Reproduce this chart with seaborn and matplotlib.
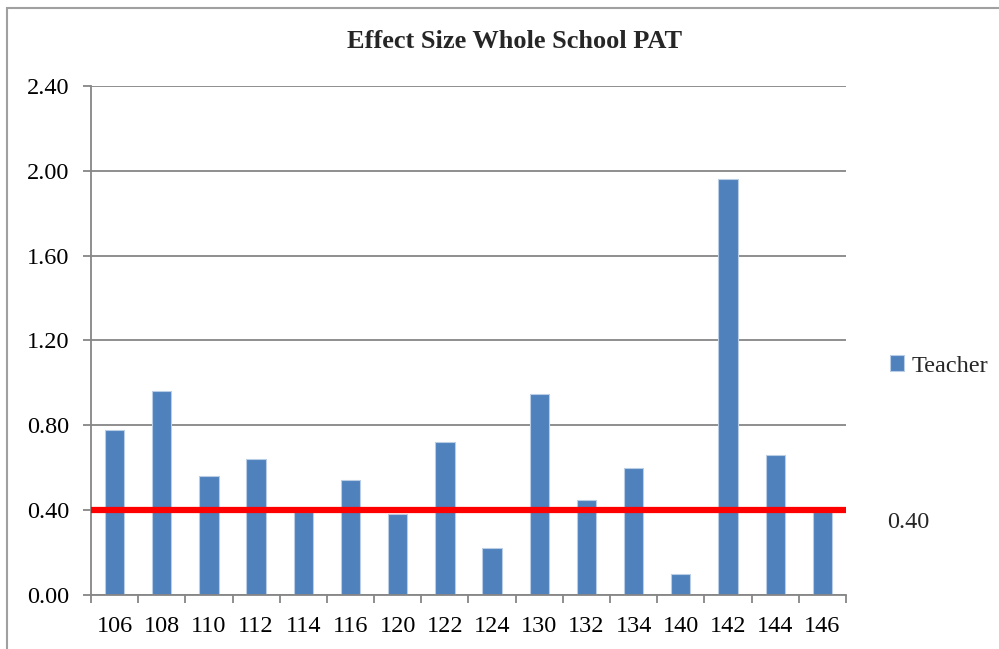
import matplotlib
matplotlib.use("Agg")
import matplotlib.pyplot as plt
import matplotlib.patches as mpatches
from matplotlib.ticker import FixedLocator, FormatStrFormatter
import numpy as np
import pandas as pd
import seaborn as sns

# Effect size per teacher code
teachers = ["106", "108", "110", "112", "114", "116", "120", "122",
            "124", "130", "132", "134", "140", "142", "144", "146"]
effect_size = [0.78, 0.96, 0.56, 0.64, 0.39, 0.54, 0.38, 0.72,
               0.22, 0.95, 0.45, 0.60, 0.10, 1.96, 0.66, 0.39]
threshold = 0.40
y_ticks = [0.00, 0.40, 0.80, 1.20, 1.60, 2.00, 2.40]

df = pd.DataFrame({"teacher": teachers, "effect": effect_size})

sns.set_theme(style="white")
plt.rcParams["font.family"] = ["Liberation Serif", "DejaVu Serif"]

axis_grey = "#868686"
bar_blue = "#4F81BD"

fig = plt.figure(figsize=(9.99, 6.49), dpi=100)
ax = fig.add_axes([0.0911, 0.0832, 0.7557, 0.7843])

sns.barplot(data=df, x="teacher", y="effect", color=bar_blue, width=0.41,
            edgecolor="#B9CDE5", linewidth=0.8, saturation=1,
            label="Teacher", ax=ax, zorder=2)

ax.set_ylim(0, 2.40)
ax.set_xlim(-0.5, len(teachers) - 0.5)
ax.yaxis.set_major_locator(FixedLocator(y_ticks))
ax.yaxis.set_major_formatter(FormatStrFormatter("%.2f"))

# horizontal gridlines
ax.grid(axis="y", color=axis_grey, linewidth=1.3, zorder=0)
ax.set_axisbelow(True)

# spines
for side in ("top", "right"):
    ax.spines[side].set_visible(False)
for side in ("left", "bottom"):
    ax.spines[side].set_color(axis_grey)
    ax.spines[side].set_linewidth(1.3)

# tick marks between categories, labels centred on the bars
ax.xaxis.set_minor_locator(FixedLocator(np.arange(-0.5, len(teachers), 1.0)))
ax.tick_params(axis="x", which="major", length=0, pad=15, labelsize=17.5,
               colors="black")
ax.tick_params(axis="x", which="minor", bottom=True, length=5.5,
               width=1.3, color=axis_grey)
ax.tick_params(axis="y", which="major", left=True, length=5.5, width=1.3,
               color=axis_grey, pad=10, labelsize=17.5, labelcolor="black")

ax.set_xlabel("")
ax.set_ylabel("")

# benchmark line
ax.axhline(threshold, color="#FF0000", linewidth=4.5, zorder=3)
ax.annotate(f"{threshold:.2f}", xy=(1.054, threshold),
            xycoords=("axes fraction", "data"),
            xytext=(0, -12), textcoords="offset pixels",
            ha="left", va="center", fontsize=17.5, annotation_clip=False)

fig.text(0.5155, 1 - 42 / 649, "Effect Size Whole School PAT",
         fontsize=19, fontweight="bold", ha="center", va="center")

leg = ax.legend(loc="center left", bbox_to_anchor=(1.045, 0.45),
                frameon=False, fontsize=17.5, handlelength=0.6,
                handleheight=0.6, handletextpad=0.3, borderaxespad=0)

# chart area border
fig.patches.append(mpatches.Rectangle((0.007, -0.01), 1.01, 0.997,
                                      transform=fig.transFigure,
                                      fill=False, edgecolor="#A0A0A0",
                                      linewidth=1.5))

fig.savefig("out.png", dpi=100)
